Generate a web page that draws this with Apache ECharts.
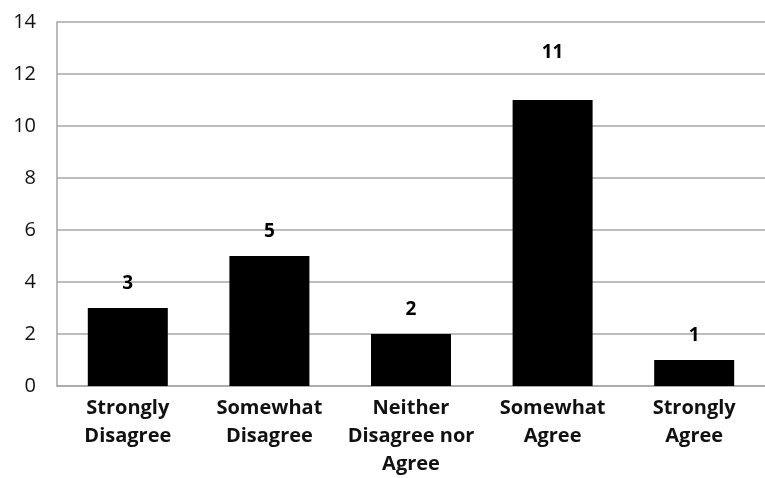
<!DOCTYPE html>
<html>
<head>
<meta charset="utf-8">
<script src="https://cdn.jsdelivr.net/npm/echarts@6/dist/echarts.min.js"></script>
<style>
  html, body { margin: 0; padding: 0; background: #fff; }
  #chart { width: 765px; height: 478px; }
</style>
</head>
<body>
<div id="chart"></div>
<script>
// Survey responses per agreement level
var categories = ['Strongly\nDisagree', 'Somewhat\nDisagree', 'Neither\nDisagree nor\nAgree', 'Somewhat\nAgree', 'Strongly\nAgree'];
var counts = [3, 5, 2, 11, 1];
var yTicks = { min: 0, max: 14, interval: 2 };

var FONT = '"Open Sans", "DejaVu Sans", sans-serif';

// the tallest bar carries its value label a little higher
var maxCount = Math.max.apply(null, counts);
var barData = counts.map(function (v) {
  return v === maxCount ? { value: v, label: { distance: 38 } } : v;
});

var chart = echarts.init(document.getElementById('chart'), null, { renderer: 'canvas' });
chart.setOption({
  animation: false,
  textStyle: { fontFamily: FONT },
  grid: { left: 57, right: 0, top: 22, bottom: 88.7, containLabel: false },
  xAxis: {
    type: 'category',
    data: categories,
    axisLine: { show: true, lineStyle: { color: '#a6a6a6', width: 1.5 } },
    axisTick: { show: false },
    axisLabel: {
      interval: 0,
      color: '#111',
      fontSize: 20,
      fontWeight: 'bold',
      lineHeight: 28,
      margin: 8,
      fontFamily: FONT
    }
  },
  yAxis: {
    type: 'value',
    min: yTicks.min,
    max: yTicks.max,
    interval: yTicks.interval,
    axisLine: { show: true, lineStyle: { color: '#a6a6a6', width: 1.5 } },
    axisTick: { show: false },
    splitLine: { show: true, lineStyle: { color: '#a6a6a6', width: 1.5 } },
    axisLabel: {
      color: '#111',
      fontSize: 20,
      margin: 21,
      fontFamily: FONT
    }
  },
  series: [{
    type: 'bar',
    data: barData,
    barWidth: '56.5%',
    itemStyle: { color: '#000' },
    label: {
      show: true,
      position: 'top',
      distance: 15,
      color: '#000',
      fontSize: 19,
      fontWeight: 'bold',
      fontFamily: FONT
    }
  }]
});
</script>
</body>
</html>
